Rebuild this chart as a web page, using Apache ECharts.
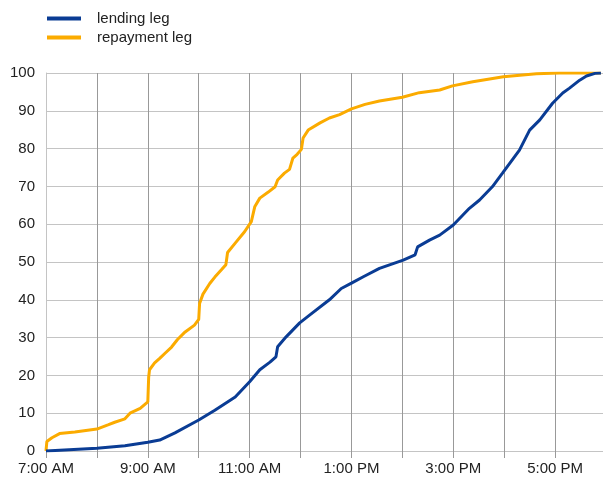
<!DOCTYPE html>
<html>
<head>
<meta charset="utf-8">
<script src="https://cdn.jsdelivr.net/npm/echarts@6/dist/echarts.min.js"></script>
<style>
html,body{margin:0;padding:0;background:#fff;}
#chart{width:603px;height:481px;}
</style>
</head>
<body>
<div id="chart"></div>
<script>
const seriesNames = ['lending leg', 'repayment leg'];
const xTickLabels = ['7:00 AM', '9:00 AM', '11:00 AM', '1:00 PM', '3:00 PM', '5:00 PM'];

const lendingTimes = ['7:00','7:01','8:00','8:33','9:00','9:14','9:32','10:00','10:19','10:43','11:00','11:12','11:24','11:31','11:33','11:43','11:59','12:11','12:34','12:48','13:00','13:14','13:33','14:01','14:15','14:18','14:32','14:44','15:00','15:19','15:31','15:46','15:58','16:18','16:30','16:42','16:57','17:09','17:17','17:29','17:37','17:47','17:54'];
const lendingValues = [0,0.3,0.7,1.4,2.3,2.9,4.8,8.2,10.8,14.3,18.3,21.5,23.5,24.9,27.6,30.2,33.9,36,40,43,44.4,46.1,48.3,50.5,51.9,54,55.8,57.1,59.8,64.2,66.4,69.9,73.5,79.6,84.9,87.6,92,94.7,96,98.1,99.2,99.9,100];

const repaymentTimes = ['7:00','7:01','7:07','7:16','7:34','8:00','8:13','8:21','8:33','8:39','8:51','9:00','9:01','9:02','9:08','9:14','9:20','9:28','9:35','9:44','9:55','10:00','10:01','10:05','10:13','10:19','10:27','10:32','10:34','10:43','10:54','11:02','11:06','11:12','11:22','11:30','11:33','11:41','11:47','11:51','11:56','12:01','12:03','12:09','12:23','12:34','12:46','13:00','13:16','13:33','14:00','14:20','14:44','14:59','15:23','15:59','16:38','17:05','17:54'];
const repaymentValues = [0,2.5,3.5,4.6,5.0,5.8,6.9,7.6,8.5,10,11.3,13,19.5,21.5,23.3,24.5,25.8,27.5,29.5,31.5,33.3,34.8,39,41.5,44.3,46,48,49.3,52.5,55,58,60.7,64.6,66.9,68.5,69.9,71.7,73.5,74.5,77.5,78.5,79.8,82.8,84.9,86.8,88.1,89,90.5,91.7,92.6,93.6,94.8,95.5,96.6,97.7,99,99.8,100,100];

function toMin(t){ const p = t.split(':'); return (+p[0])*60 + (+p[1]); }
function pairs(times, vals){ return times.map((t,i)=>[toMin(t), vals[i]]); }

const chart = echarts.init(document.getElementById('chart'), null, {renderer:'canvas'});
const font = 'Liberation Sans, Arial, sans-serif';
chart.setOption({
  animation: false,
  backgroundColor: '#ffffff',
  legend: {
    orient: 'vertical',
    left: 47, top: 11, padding: 0,
    itemWidth: 34, itemHeight: 4, itemGap: 4,
    icon: 'rect',
    data: seriesNames,
    textStyle: { fontFamily: font, fontSize: 15, color: '#222', lineHeight: 15, padding: [0,0,0,11] }
  },
  grid: { left: 46, top: 73, width: 560, height: 378, containLabel: false, outerBoundsMode: 'none' },
  xAxis: {
    type: 'value', min: 420, max: 1080, interval: 60,
    axisLine: { show: false },
    axisTick: { show: true, length: 7, lineStyle: { color: '#999' } },
    splitLine: { show: true, lineStyle: { color: '#999', width: 1 } },
    axisLabel: {
      margin: 10, fontFamily: font, fontSize: 15, color: '#222',
      formatter: function(v){ const h = (v-420)/60; return (h % 2 === 0) ? (xTickLabels[h/2] || '') : ''; }
    }
  },
  yAxis: {
    type: 'value', min: 0, max: 100, interval: 10,
    axisLine: { show: true, lineStyle: { color: '#c4c4c4' } },
    axisTick: { show: false },
    splitLine: { show: true, lineStyle: { color: '#c4c4c4', width: 1 } },
    axisLabel: { margin: 11, fontFamily: font, fontSize: 15, color: '#222' }
  },
  series: [
    { name: seriesNames[0], type: 'line', data: pairs(lendingTimes, lendingValues), showSymbol: false, symbol: 'none',
      lineStyle: { color: '#0a3c94', width: 3 }, itemStyle: { color: '#0a3c94' }, z: 3 },
    { name: seriesNames[1], type: 'line', data: pairs(repaymentTimes, repaymentValues), showSymbol: false, symbol: 'none',
      lineStyle: { color: '#fbab00', width: 3 }, itemStyle: { color: '#fbab00' }, z: 2 }
  ]
});
</script>
</body>
</html>
